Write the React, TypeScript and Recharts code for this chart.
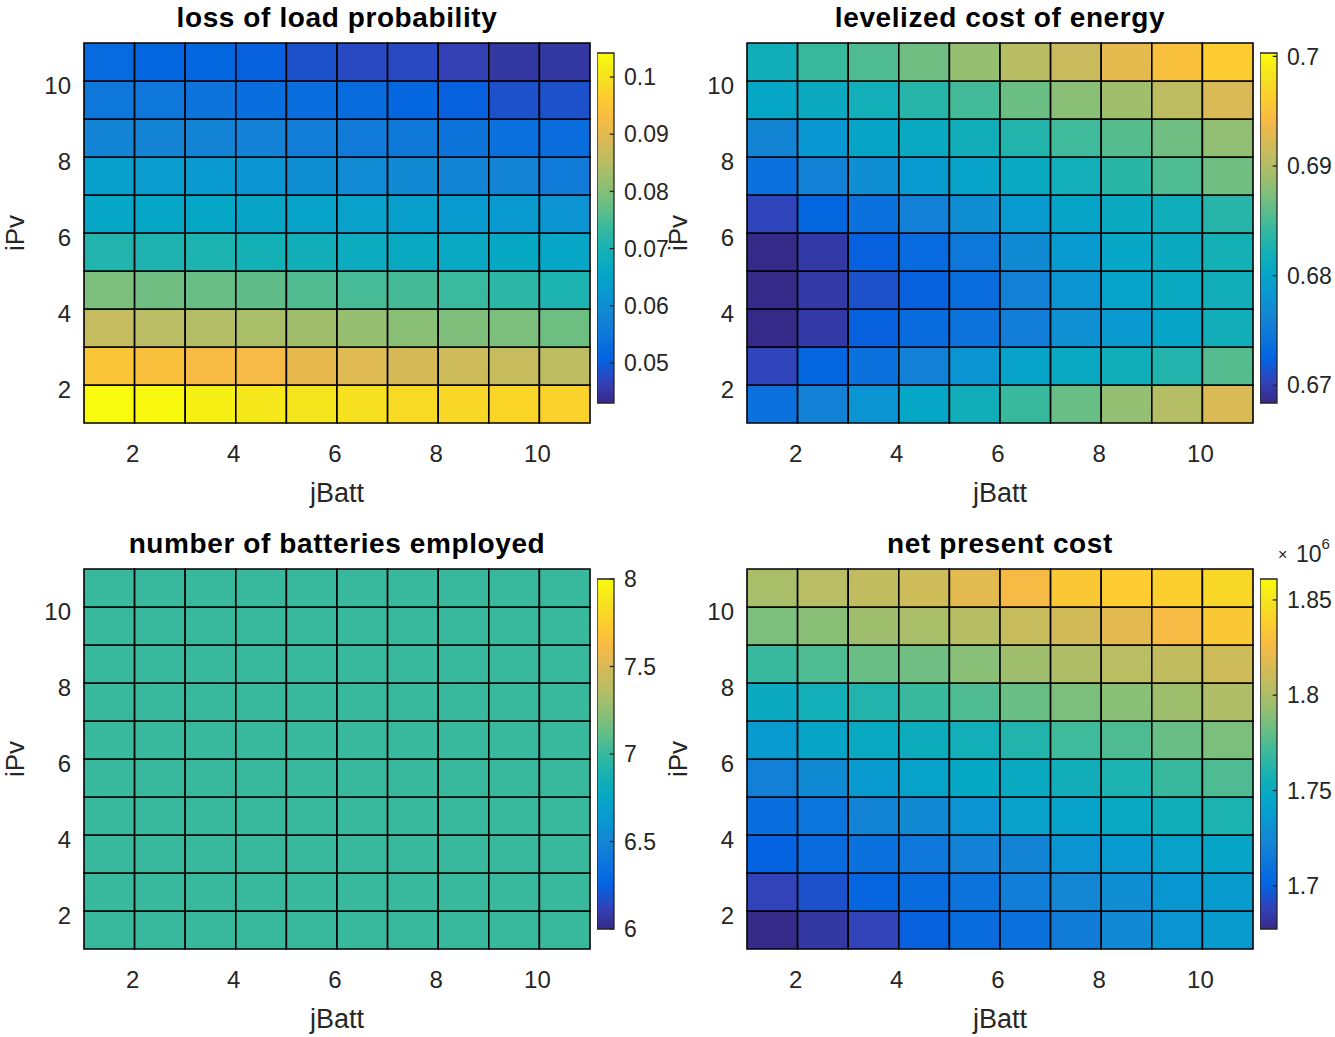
import React from 'react';
import { ScatterChart, Scatter, XAxis, YAxis, ReferenceArea, ReferenceLine, Label } from 'recharts';

// grid: cells span [j, j+1] x [i, i+1]
const jBatt = [1, 2, 3, 4, 5, 6, 7, 8, 9, 10];
const iPv = [1, 2, 3, 4, 5, 6, 7, 8, 9, 10];
const gridTicks = [2, 4, 6, 8, 10];

// rows: iPv = 1 (bottom) ... iPv = 10 (top); columns: jBatt = 1 ... 10
const lossOfLoad = [
  [0.1042, 0.1039, 0.1024, 0.1011, 0.1005, 0.0996, 0.0987, 0.0981, 0.0978, 0.0972],
  [0.0950, 0.0938, 0.0926, 0.0923, 0.0907, 0.0898, 0.0886, 0.0877, 0.0868, 0.0858],
  [0.0865, 0.0854, 0.0846, 0.0837, 0.0828, 0.0817, 0.0806, 0.0797, 0.0794, 0.0782],
  [0.0794, 0.0784, 0.0777, 0.0770, 0.0757, 0.0748, 0.0747, 0.0737, 0.0723, 0.0705],
  [0.0712, 0.0708, 0.0705, 0.0693, 0.0687, 0.0675, 0.0669, 0.0666, 0.0663, 0.0660],
  [0.0656, 0.0656, 0.0656, 0.0653, 0.0650, 0.0644, 0.0638, 0.0629, 0.0626, 0.0611],
  [0.0638, 0.0635, 0.0626, 0.0614, 0.0601, 0.0595, 0.0592, 0.0583, 0.0580, 0.0559],
  [0.0583, 0.0583, 0.0580, 0.0574, 0.0565, 0.0559, 0.0555, 0.0543, 0.0534, 0.0528],
  [0.0552, 0.0549, 0.0543, 0.0531, 0.0528, 0.0525, 0.0516, 0.0503, 0.0485, 0.0485],
  [0.0522, 0.0516, 0.0516, 0.0503, 0.0485, 0.0476, 0.0476, 0.0464, 0.0451, 0.0451],
];

const lcoe = [
  [0.67397, 0.67588, 0.67796, 0.68019, 0.68179, 0.68435, 0.68649, 0.68850, 0.69025, 0.69239],
  [0.67046, 0.67285, 0.67397, 0.67572, 0.67796, 0.67987, 0.68083, 0.68179, 0.68307, 0.68562],
  [0.66838, 0.66966, 0.67221, 0.67333, 0.67413, 0.67540, 0.67748, 0.67860, 0.68003, 0.68179],
  [0.66838, 0.66966, 0.67125, 0.67221, 0.67349, 0.67572, 0.67796, 0.67987, 0.68083, 0.68179],
  [0.66838, 0.66966, 0.67221, 0.67317, 0.67477, 0.67700, 0.67860, 0.68019, 0.68099, 0.68211],
  [0.67046, 0.67285, 0.67397, 0.67572, 0.67732, 0.67860, 0.68003, 0.68099, 0.68163, 0.68339],
  [0.67397, 0.67588, 0.67732, 0.67860, 0.67987, 0.68083, 0.68195, 0.68355, 0.68530, 0.68684],
  [0.67636, 0.67828, 0.68003, 0.68083, 0.68179, 0.68307, 0.68466, 0.68562, 0.68684, 0.68834],
  [0.68019, 0.68099, 0.68195, 0.68339, 0.68482, 0.68658, 0.68792, 0.68913, 0.69073, 0.69233],
  [0.68179, 0.68435, 0.68534, 0.68684, 0.68856, 0.69041, 0.69137, 0.69313, 0.69488, 0.69616],
];

const batteries = [
  [7, 7, 7, 7, 7, 7, 7, 7, 7, 7],
  [7, 7, 7, 7, 7, 7, 7, 7, 7, 7],
  [7, 7, 7, 7, 7, 7, 7, 7, 7, 7],
  [7, 7, 7, 7, 7, 7, 7, 7, 7, 7],
  [7, 7, 7, 7, 7, 7, 7, 7, 7, 7],
  [7, 7, 7, 7, 7, 7, 7, 7, 7, 7],
  [7, 7, 7, 7, 7, 7, 7, 7, 7, 7],
  [7, 7, 7, 7, 7, 7, 7, 7, 7, 7],
  [7, 7, 7, 7, 7, 7, 7, 7, 7, 7],
  [7, 7, 7, 7, 7, 7, 7, 7, 7, 7],
];

// net present cost, x 10^6
const npcMillions = [
  [1.6773, 1.6837, 1.6883, 1.6993, 1.7058, 1.7094, 1.7168, 1.7260, 1.7324, 1.7379],
  [1.6883, 1.6938, 1.7021, 1.7058, 1.7104, 1.7186, 1.7241, 1.7287, 1.7342, 1.7379],
  [1.7003, 1.7058, 1.7094, 1.7140, 1.7205, 1.7223, 1.7324, 1.7361, 1.7416, 1.7444],
  [1.7076, 1.7122, 1.7223, 1.7260, 1.7315, 1.7416, 1.7434, 1.7489, 1.7545, 1.7600],
  [1.7196, 1.7269, 1.7361, 1.7425, 1.7471, 1.7489, 1.7545, 1.7600, 1.7692, 1.7747],
  [1.7361, 1.7444, 1.7489, 1.7517, 1.7554, 1.7618, 1.7710, 1.7747, 1.7815, 1.7866],
  [1.7499, 1.7554, 1.7618, 1.7692, 1.7747, 1.7815, 1.7866, 1.7897, 1.7958, 1.8013],
  [1.7692, 1.7747, 1.7815, 1.7835, 1.7897, 1.7963, 1.8013, 1.8044, 1.8072, 1.8114],
  [1.7866, 1.7897, 1.7958, 1.7995, 1.8037, 1.8086, 1.8123, 1.8187, 1.8261, 1.8344],
  [1.7995, 1.8044, 1.8072, 1.8114, 1.8187, 1.8261, 1.8344, 1.8371, 1.8380, 1.8426],
];

// colour limits (what the colorbars span)
const llpRange = [0.0430, 0.1042];
const lcoeRange = [0.66838, 0.70031];
const battRange = [6, 8];
const npcRange = [1.6773, 1.861];

const llpTicks = [0.05, 0.06, 0.07, 0.08, 0.09, 0.1];
const lcoeTicks = [0.67, 0.68, 0.69, 0.7];
const battTicks = [6, 6.5, 7, 7.5, 8];
const npcTicks = [1.7, 1.75, 1.8, 1.85];

// parula, sampled
const PARULA = [
  '#352a87', '#3243ba', '#0363e1', '#0d75dc', '#1485d4', '#0998d1', '#06a7c6', '#15b1b4', '#38b99e',
  '#65be86', '#92bf73', '#b7bd64', '#d9ba56', '#f8bb44', '#fcce2e', '#f5e41d', '#f9fb0e',
];

const hexRgb = (h: string) => [1, 3, 5].map((k) => parseInt(h.slice(k, k + 2), 16));

function parula(t: number) {
  const c = Math.max(0, Math.min(1, t)) * (PARULA.length - 1);
  const i = Math.min(Math.floor(c), PARULA.length - 2);
  const f = c - i;
  const a = hexRgb(PARULA[i]);
  const b = hexRgb(PARULA[i + 1]);
  const m = a.map((v, k) => Math.round(v + (b[k] - v) * f));
  return `rgb(${m[0]},${m[1]},${m[2]})`;
}

const FONT = '"Liberation Sans", Arial, Helvetica, sans-serif';
const TEXT = '#262626';
const PW = 506;
const PH = 380;

function HeatPanel({ left, top, values, range }: { left: number; top: number; values: number[][]; range: number[] }) {
  const centers = values.flatMap((row, r) => row.map((v, c) => ({ x: jBatt[c] + 0.5, y: iPv[r] + 0.5, v })));
  return (
    <div style={{ position: 'absolute', left: left - 84, top: top - 10 }}>
      <ScatterChart width={84 + PW + 10} height={10 + PH + 100} margin={{ top: 10, right: 10, bottom: 0, left: 0 }}>
        <XAxis
          type="number"
          dataKey="x"
          domain={[1, 11]}
          ticks={gridTicks}
          interval={0}
          height={100}
          axisLine={false}
          tickLine={false}
          tickSize={0}
          tickMargin={22}
          tick={{ fontSize: 24, fill: TEXT, dx: -2 }}
        >
          <Label value="jBatt" position="insideTop" offset={60} fontSize={27} fill={TEXT} />
        </XAxis>
        <YAxis
          type="number"
          dataKey="y"
          domain={[1, 11]}
          ticks={gridTicks}
          interval={0}
          width={84}
          axisLine={false}
          tickLine={false}
          tickSize={0}
          tickMargin={13}
          tick={{ fontSize: 24, fill: TEXT, dy: 4 }}
        >
          <Label value="iPv" angle={-90} position="insideLeft" offset={15} fontSize={26} fill={TEXT} style={{ textAnchor: 'middle' }} />
        </YAxis>
        {values.map((row, r) =>
          row.map((v, c) => (
            <ReferenceArea
              key={`${r}-${c}`}
              x1={jBatt[c]}
              x2={jBatt[c] + 1}
              y1={iPv[r]}
              y2={iPv[r] + 1}
              fill={parula((v - range[0]) / (range[1] - range[0]))}
              fillOpacity={1}
              stroke="#000"
              strokeWidth={1.6}
              ifOverflow="visible"
            />
          ))
        )}
        <Scatter data={centers} isAnimationActive={false} shape={() => <g />} />
      </ScatterChart>
    </div>
  );
}

function ColorBar({ left, top, range, ticks }: { left: number; top: number; range: number[]; ticks: number[] }) {
  return (
    <div style={{ position: 'absolute', left, top: top - 20 }}>
      <ScatterChart width={17 + 80} height={390} margin={{ top: 20, right: 0, bottom: 20, left: 0 }}>
        <XAxis type="number" dataKey="x" domain={[0, 1]} hide />
        <YAxis
          type="number"
          dataKey="y"
          orientation="right"
          domain={range}
          allowDataOverflow
          ticks={ticks}
          interval={0}
          width={80}
          axisLine={false}
          tickLine={false}
          tickSize={0}
          tickMargin={10}
          tick={{ fontSize: 23, fill: TEXT }}
          tickFormatter={(v: number) => String(v)}
        />
        <ReferenceArea x1={0} x2={1} y1={range[0]} y2={range[1]} fill="url(#parulaGrad)" fillOpacity={1} stroke={TEXT} strokeWidth={1.3} ifOverflow="visible" />
        {ticks.map((t) => (
          <ReferenceLine key={t} segment={[{ x: 0.75, y: t }, { x: 1, y: t }]} stroke={TEXT} strokeWidth={1.3} ifOverflow="visible" />
        ))}
        <Scatter data={ticks.map((t) => ({ x: 1, y: t }))} isAnimationActive={false} shape={() => <g />} />
      </ScatterChart>
    </div>
  );
}

const panels = [
  { left: 84, top: 43, title: 'loss of load probability', values: lossOfLoad, range: llpRange, ticks: llpTicks },
  { left: 747, top: 43, title: 'levelized cost of energy', values: lcoe, range: lcoeRange, ticks: lcoeTicks },
  { left: 84, top: 569, title: 'number of batteries employed', values: batteries, range: battRange, ticks: battTicks },
  { left: 747, top: 569, title: 'net present cost', values: npcMillions, range: npcRange, ticks: npcTicks },
];

export default function App() {
  return (
    <div style={{ position: 'absolute', left: 0, top: 0, width: 1335, height: 1037, background: '#fff', fontFamily: FONT }}>
      <svg width={0} height={0} style={{ position: 'absolute' }}>
        <defs>
          <linearGradient id="parulaGrad" x1="0" y1="1" x2="0" y2="0">
            {PARULA.map((c, k) => (
              <stop key={k} offset={k / (PARULA.length - 1)} stopColor={c} />
            ))}
          </linearGradient>
        </defs>
      </svg>
      {panels.map((p) => (
        <React.Fragment key={p.title}>
          <HeatPanel left={p.left} top={p.top} values={p.values} range={p.range} />
          <ColorBar left={p.left + 513} top={p.top + 10} range={p.range} ticks={p.ticks} />
        </React.Fragment>
      ))}
      <svg width={1335} height={1037} style={{ position: 'absolute', left: 0, top: 0, pointerEvents: 'none' }}>
        {panels.map((p) => (
          <text
            key={p.title}
            x={p.left + PW / 2}
            y={p.top - 16}
            textAnchor="middle"
            fontSize={28}
            letterSpacing={0.6}
            fontWeight="bold"
            fill="#000"
            fontFamily={FONT}
          >
            {p.title}
          </text>
        ))}
        <text x={1278} y={560} fontSize={16} fill={TEXT} fontFamily={FONT}>×</text>
        <text x={1296} y={562} fontSize={23} fill={TEXT} fontFamily={FONT}>
          10
          <tspan dy={-13} fontSize={15}>6</tspan>
        </text>
      </svg>
    </div>
  );
}
